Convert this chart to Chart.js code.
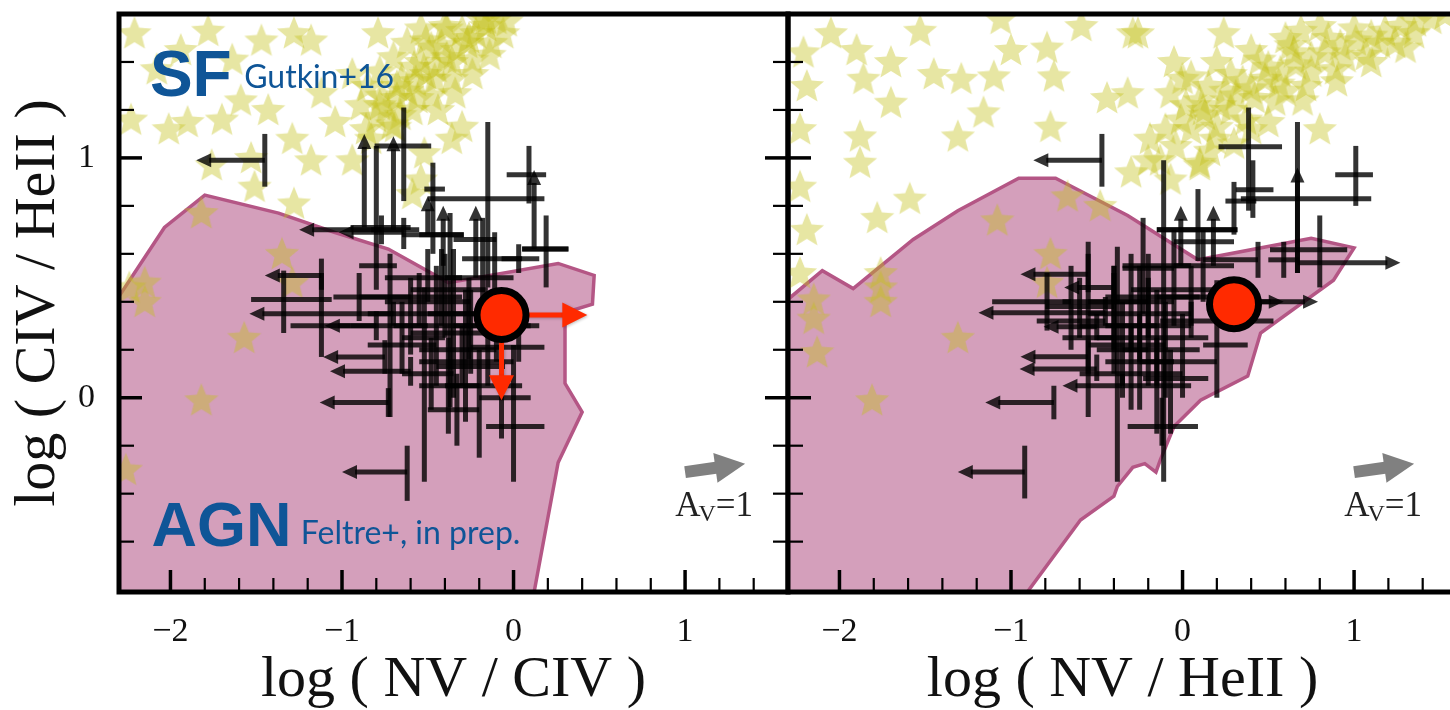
<!DOCTYPE html>
<html>
<head>
<meta charset="utf-8">
<script src="https://cdn.jsdelivr.net/npm/chart.js@4.4.0/dist/chart.umd.min.js"></script>
<style>
  html, body { margin: 0; padding: 0; background: #fff; overflow: hidden; width: 1450px; height: 710px; }
  #wrap { position: relative; width: 1450px; height: 710px; overflow: hidden; }
  canvas { position: absolute; top: 0; }
  #left { left: 0; }
  #right { left: 669px; }
</style>
</head>
<body>
<div id="wrap">
  <canvas id="left" width="800" height="710"></canvas>
  <canvas id="right" width="800" height="710"></canvas>
</div>
<script>
// Axis limits and labelled ticks
const X_LIMITS = [-2.3, 1.6];
const Y_LIMITS = [-0.81, 1.6];
const X_TICK_LABELS = [-2, -1, 0, 1];
const Y_TICK_LABELS = [0, 1];

// Star-forming photoionisation models (Gutkin+16): [log NV/CIV, log CIV/HeII]
const sfModelsNVCIV = [
  [-2.21,1.52],[-1.78,1.53],[-1.28,1.52],[-0.79,1.52],[-2.01,1.12],[-1.90,1.15],[-1.59,1.24],
  [-1.43,1.20],[-1.12,1.27],[-0.94,1.35],[-1.04,1.15],[-1.29,1.08],[-1.53,1.00],[-1.18,0.99],
  [-0.94,0.99],[-1.51,0.88],[-1.28,0.81],[-0.69,1.13],[-0.30,1.13],[-0.52,1.02],[-0.54,0.91],
  [-1.82,0.77],[-2.15,0.48],[-0.36,1.08],[-0.59,0.85],[-2.24,0.46],[-2.15,0.40],[-1.57,0.25],
  [-1.82,-0.01],[-1.35,0.60],[-1.29,0.48],[-2.08,1.37],[-1.64,1.41],[-1.47,1.49],[-1.94,1.45],
  [-2.23,1.16],[-1.76,0.97],[-0.83,1.08],[-2.26,-0.30],[-1.18,1.49],[-1.70,1.16],
  [-0.86,1.12],[-0.80,1.17],[-0.74,1.21],[-0.68,1.25],[-0.62,1.28],[-0.57,1.32],[-0.51,1.35],
  [-0.45,1.38],[-0.39,1.42],[-0.33,1.45],[-0.27,1.48],[-0.22,1.52],[-0.16,1.55],[-0.10,1.58],
  [-0.77,1.26],[-0.65,1.33],[-0.54,1.40],[-0.42,1.47],[-0.30,1.53],[-0.19,1.58],[-0.71,1.14],
  [-0.59,1.20],[-0.48,1.26],[-0.36,1.33],[-0.24,1.41],[-0.13,1.48],[-0.04,1.57],[-0.89,1.22],
  [-0.51,1.49],[-0.39,1.54],
  [-0.85,1.30],[-0.78,1.36],[-0.70,1.42],[-0.62,1.48],[-0.54,1.54],[-0.78,1.22],[-0.68,1.30],
  [-0.58,1.38],[-0.48,1.46],[-0.40,1.55],[-0.66,1.18],[-0.56,1.25],[-0.46,1.33],[-0.36,1.40],
  [-0.26,1.50],[-0.16,1.58],[-0.44,1.20],[-0.34,1.27],[-0.24,1.35],[-0.14,1.43],[-0.06,1.52]
];
// Star-forming models: [log NV/HeII, log CIV/HeII]
const sfModelsNVHeII = [
  [-2.05,1.52],[-1.90,1.45],[-1.70,1.40],[-1.86,1.33],[-2.21,1.44],[-2.19,1.30],[-2.23,1.12],
  [-1.88,1.09],[-1.88,0.98],[-1.70,1.23],[-1.45,1.35],[-1.29,1.33],[-1.10,1.34],[-1.00,1.45],
  [-0.79,1.46],[-0.59,1.55],[-0.29,1.52],[-0.75,1.34],[-1.16,1.19],[-1.31,1.09],[-0.77,1.13],
  [-0.44,1.25],[-0.32,1.27],[-0.07,1.27],[-0.20,0.99],[-0.30,0.94],[-1.59,0.83],[-1.78,0.75],
  [-2.23,0.88],[-2.19,0.70],[-2.23,0.52],[-1.08,0.74],[-0.77,0.60],[-0.67,0.84],[-0.48,0.80],
  [-1.76,0.52],[-2.15,0.41],[-2.15,0.33],[-2.13,0.19],[-1.76,0.40],[-1.76,0.46],[-1.31,0.25],
  [-1.81,-0.01],[-0.79,0.48],[-0.26,1.52],[0.24,1.52],[0.69,1.53],[0.80,1.12],[0.05,1.34],
  [0.16,1.03],[0.40,1.12],[-1.53,1.53],[-1.06,1.58],
  [-0.13,0.99],[-0.04,1.05],[0.05,1.12],[0.13,1.18],[0.22,1.22],[0.31,1.26],[0.40,1.29],
  [0.48,1.33],[0.57,1.36],[0.66,1.39],[0.75,1.42],[0.83,1.44],[0.92,1.47],[1.01,1.49],
  [1.10,1.51],[1.18,1.53],[1.27,1.55],[1.36,1.57],[1.45,1.58],[1.53,1.60],[0.10,1.24],
  [0.28,1.35],[0.45,1.41],[0.63,1.47],[-0.01,1.16],[0.19,1.08],[0.37,1.16],[0.54,1.24],
  [0.72,1.30],[0.89,1.37],[1.07,1.43],[1.24,1.48],[-0.19,1.08],[-0.07,0.91],[0.10,0.97],
  [0.10,0.98],[0.30,1.06],[0.50,1.15],[0.70,1.24],[0.90,1.32],[1.10,1.40],[1.30,1.46],
  [0.00,1.33],[0.20,1.40],[0.40,1.45],[0.60,1.50],[0.80,1.55],[-0.10,1.12],[0.02,1.22],
  [0.15,1.30],[0.28,1.20],[0.42,1.25],[0.56,1.31],[0.20,1.13],[-0.05,1.40],
  [0.35,1.32],[0.50,1.38],[0.65,1.44],[0.85,1.50],[1.00,1.54],[0.25,1.28],[0.12,1.20],
  [0.60,1.28],[0.75,1.36],[0.95,1.42],[1.15,1.48],[1.35,1.52]
];

// AGN model envelope (Feltre+, in prep.)
const agnEnvelopeNVCIV = [
  [-2.45,0.26],[-2.035,0.71],[-1.80,0.845],[-1.37,0.77],[-1.045,0.69],[-0.73,0.62],[-0.38,0.48],
  [0.26,0.56],[0.47,0.51],[0.46,0.39],[0.30,0.355],[0.30,0.06],[0.40,-0.06],[0.26,-0.27],
  [0.12,-0.81],[0.08,-0.95],[-2.45,-0.95],[-2.45,0.26]
];
const agnEnvelopeNVHeII = [
  [-2.45,0.32],[-2.10,0.53],[-1.92,0.455],[-1.57,0.66],[-1.31,0.78],[-0.955,0.915],[-0.74,0.915],
  [-0.32,0.76],[0.09,0.575],[0.75,0.665],[1.00,0.625],[0.88,0.49],[0.455,0.27],[0.38,0.09],
  [0.105,-0.01],[-0.05,-0.12],[-0.13,-0.26],[-0.155,-0.31],[-0.22,-0.275],[-0.29,-0.29],
  [-0.38,-0.37],[-0.40,-0.41],[-0.595,-0.51],[-0.915,-0.82],[-1.05,-0.95],[-2.45,-0.95],[-2.45,0.32]
];

// Measured line ratios: [x, y, xLow, xHigh, yLow, yHigh, limits]
// limits: L = upper limit in x, R = lower limit in x, U = lower limit in y
const sourcesNVCIV = [
  [-1.45,0.99,-1.85,-1.45,0.88,1.10,'L'],
  [-0.62,-0.31,-1.00,-0.62,-0.43,-0.20,'L'],
  [-0.87,0.71,-0.95,-0.60,0.71,1.10,'U'],
  [-0.70,0.70,-0.83,-0.55,0.70,1.09,'U'],
  [-0.77,0.70,-1.25,-0.77,0.64,0.76,'L'],
  [-0.64,0.69,-1.02,-0.64,0.62,0.75,'L'],
  [-0.64,1.05,-0.81,-0.48,0.82,1.21,''],
  [-0.80,0.55,-0.90,-0.68,0.45,1.05,''],
  [-0.15,0.83,-0.50,0.18,0.46,1.15,''],
  [0.09,0.93,-0.04,0.19,0.81,1.05,''],
  [0.12,0.62,0.05,0.32,0.62,0.95,'U'],
  [0.19,0.62,0.05,0.32,0.46,0.76,''],
  [-0.47,0.87,-0.52,-0.40,0.60,0.98,''],
  [-0.50,0.68,-0.65,-0.29,0.68,0.84,'U'],
  [-0.41,0.68,-0.55,-0.29,0.55,0.80,'U'],
  [-0.22,0.66,-0.35,-0.10,0.50,0.80,'U'],
  [-0.11,0.58,-0.30,0.05,0.38,0.69,''],
  [0.03,0.58,-0.07,0.15,0.52,0.64,''],
  [-1.34,0.41,-1.53,-1.06,0.27,0.53,''],
  [-1.12,0.51,-1.45,-1.12,0.45,0.58,'L'],
  [-0.70,0.35,-1.54,-0.70,0.30,0.40,'L'],
  [-1.12,0.30,-1.30,-0.95,0.17,0.52,''],
  [-0.80,0.30,-1.10,-0.80,0.24,0.36,'L'],
  [-0.75,0.17,-1.11,-0.75,0.10,0.24,'L'],
  [-0.60,0.11,-1.07,-0.60,0.05,0.17,'L'],
  [-0.73,-0.02,-1.13,-0.73,-0.08,0.04,'L'],
  [-0.72,0.30,-0.95,-0.50,-0.08,0.60,''],
  [-0.52,0.25,-0.65,-0.40,-0.35,0.46,''],
  [-0.48,0.10,-0.65,-0.35,-0.05,0.25,''],
  [-0.37,0.20,-0.55,-0.10,-0.04,0.77,''],
  [-0.30,0.13,-0.45,-0.05,0.05,0.30,''],
  [-0.15,0.21,-0.25,0.18,0.05,0.35,''],
  [-0.07,0.00,-0.20,0.10,-0.17,0.09,''],
  [0.00,-0.12,-0.16,0.18,-0.35,0.22,''],
  [-0.26,0.35,-0.40,-0.12,0.16,0.50,''],
  [0.03,0.30,-0.10,0.15,0.15,0.40,''],
  [-0.55,0.42,-0.90,-0.30,0.30,0.52,''],
  [-0.40,0.40,-0.75,-0.25,0.25,0.60,''],
  [-0.25,0.27,-0.60,-0.05,0.10,0.45,''],
  [-0.90,0.42,-1.05,-0.60,0.32,0.52,''],
  [-0.33,-0.05,-0.50,-0.20,-0.20,0.10,''],
  [-0.18,0.50,-0.40,0.00,0.35,0.75,''],
  [-0.45,0.30,-0.70,-0.20,0.05,0.55,''],
  [-0.42,0.45,-0.60,-0.15,0.30,0.62,''],
  [-0.35,0.35,-0.50,-0.05,0.00,0.62,''],
  [-0.28,0.15,-0.55,0.00,-0.10,0.45,''],
  [-0.60,0.35,-0.85,-0.40,0.18,0.50,''],
  [-0.50,0.50,-0.75,-0.30,0.40,0.62,''],
  [-0.20,0.05,-0.40,0.05,-0.25,0.20,''],
  [-0.10,0.30,-0.35,0.10,0.15,0.45,''],
  [-0.65,0.22,-0.85,-0.45,0.10,0.40,''],
  [-0.38,0.05,-0.55,-0.20,-0.15,0.25,'']
];
const sourcesNVHeII = [
  [-0.47,0.99,-0.87,-0.47,0.88,1.10,'L'],
  [-0.75,-0.02,-1.15,-0.75,-0.09,0.05,'L'],
  [-0.92,-0.31,-1.31,-0.92,-0.42,-0.20,'L'],
  [0.385,1.046,0.21,0.58,0.78,1.21,''],
  [0.67,0.83,0.34,1.10,0.52,1.15,''],
  [0.67,0.5625,0.67,1.27,0.52,0.96,'RU'],
  [0.80,0.617,0.51,0.96,0.46,0.76,''],
  [1.01,0.93,0.89,1.11,0.80,1.05,''],
  [0.41,0.867,0.31,0.53,0.75,0.99,''],
  [0.30,0.82,0.25,0.43,0.68,0.90,''],
  [-0.01,0.70,-0.15,0.32,0.55,0.80,'U'],
  [0.18,0.70,-0.15,0.32,0.55,0.80,'U'],
  [-0.11,0.55,-0.35,0.05,-0.35,0.99,''],
  [0.09,0.65,-0.05,0.30,0.57,0.87,''],
  [-0.55,0.515,-0.945,-0.55,0.44,0.60,'L'],
  [-0.79,0.40,-1.11,-0.65,0.28,0.52,''],
  [-0.40,0.46,-0.69,-0.40,0.40,0.52,'L'],
  [-0.45,0.354,-1.19,-0.45,0.30,0.42,'L'],
  [-0.40,0.40,-0.70,-0.20,0.20,0.55,''],
  [-0.50,0.296,-0.81,-0.50,0.24,0.35,'L'],
  [-0.55,0.171,-0.945,-0.55,0.10,0.24,'L'],
  [-0.50,0.12,-0.95,-0.50,0.07,0.18,'L'],
  [-0.35,0.05,-0.70,-0.35,0.00,0.10,'L'],
  [0.22,0.40,0.22,0.59,0.35,0.45,'R'],
  [0.30,0.40,0.30,0.79,0.37,0.44,'R'],
  [0.20,0.22,0.12,0.38,0.00,0.49,''],
  [0.05,0.32,-0.13,0.53,0.25,0.40,''],
  [-0.07,0.08,-0.23,0.15,-0.15,0.20,''],
  [-0.12,-0.12,-0.32,0.09,-0.20,0.00,''],
  [-0.38,0.20,-0.50,-0.20,-0.35,0.63,''],
  [-0.55,0.25,-0.70,-0.40,-0.08,0.65,''],
  [0.44,0.575,0.12,0.44,0.50,0.65,''],
  [0.59,0.575,0.50,0.68,0.50,0.65,''],
  [-0.23,0.54,-0.35,-0.05,0.35,0.75,''],
  [-0.25,0.35,-0.55,0.05,0.15,0.55,''],
  [-0.15,0.25,-0.50,0.15,0.05,0.45,''],
  [-0.30,0.10,-0.60,0.00,-0.05,0.30,''],
  [0.00,0.15,-0.25,0.20,0.00,0.35,''],
  [-0.20,0.42,-0.45,0.10,0.25,0.60,''],
  [-0.05,0.45,-0.30,0.25,0.30,0.70,''],
  [-0.65,0.32,-0.85,-0.45,0.20,0.55,''],
  [0.12,0.55,-0.05,0.30,0.40,0.70,''],
  [-0.30,0.40,-0.55,-0.05,0.20,0.60,''],
  [-0.20,0.30,-0.45,0.05,0.05,0.50,''],
  [-0.40,0.30,-0.60,-0.15,0.10,0.55,''],
  [-0.10,0.20,-0.35,0.10,0.00,0.40,''],
  [-0.35,0.22,-0.55,-0.10,0.05,0.40,''],
  [-0.15,0.05,-0.35,0.05,-0.15,0.25,''],
  [0.05,0.42,-0.15,0.25,0.30,0.55,''],
  [-0.60,0.38,-0.80,-0.40,0.25,0.50,''],
  [-0.25,0.15,-0.45,-0.05,-0.05,0.35,'']
];

// Highlighted object and its limit arrows
const highlightNVCIV = [[-0.07, 0.345]];
const highlightNVHeII = [[0.30, 0.39]];
const highlightArrowsNVCIV = [[-0.07,0.345,0.43,0.345],[-0.07,0.345,-0.07,-0.01]];
const highlightArrowsNVHeII = [];

// Dust reddening vector (A_V = 1)
const reddeningVector = [1.00,-0.31,1.35,-0.275];
const reddeningLabelAt = [1.175,-0.445];

const BLUE = '#0f5597';
const OBS_COLOR = 'rgba(0,0,0,0.8)';

function makeStar(r, ratio, fill) {
  const s = Math.ceil(r * 2 + 6);
  const c = document.createElement('canvas');
  c.width = c.height = s;
  const g = c.getContext('2d');
  g.filter = 'blur(0.6px)';
  g.translate(s / 2, s / 2 + 1);
  g.beginPath();
  for (let i = 0; i < 10; i++) {
    const a = -Math.PI / 2 + i * Math.PI / 5;
    const rr = i % 2 ? r * ratio : r;
    g.lineTo(rr * Math.cos(a), rr * Math.sin(a));
  }
  g.closePath();
  g.fillStyle = fill;
  g.fill();
  return c;
}
const starMarker = makeStar(18, 0.44, 'rgba(195,192,25,0.4)');

function arrowHead(ctx, x, y, dx, dy, len, half) {
  const n = Math.hypot(dx, dy) || 1;
  const ux = dx / n, uy = dy / n;
  ctx.beginPath();
  ctx.moveTo(x, y);
  ctx.lineTo(x - ux * len - uy * half, y - uy * len + ux * half);
  ctx.lineTo(x - ux * len + uy * half, y - uy * len - ux * half);
  ctx.closePath();
  ctx.fill();
}

function segment(ctx, x0, y0, x1, y1) {
  ctx.beginPath(); ctx.moveTo(x0, y0); ctx.lineTo(x1, y1); ctx.stroke();
}

function drawSources(chart, rows) {
  const {ctx, chartArea: a, scales: {x, y}} = chart;
  ctx.save();
  ctx.beginPath(); ctx.rect(a.left, a.top, a.right - a.left, a.bottom - a.top); ctx.clip();
  ctx.strokeStyle = OBS_COLOR; ctx.fillStyle = OBS_COLOR; ctx.lineWidth = 5; ctx.lineCap = 'butt';
  const HL = 15, HW = 7;
  rows.forEach(([vx, vy, xlo, xhi, ylo, yhi, lim]) => {
    const px = x.getPixelForValue(vx), py = y.getPixelForValue(vy);
    let hx0 = x.getPixelForValue(xlo), hx1 = x.getPixelForValue(xhi);
    let vy0 = y.getPixelForValue(yhi), vy1 = y.getPixelForValue(ylo);
    if (lim.includes('L')) hx0 += HL - 2;
    if (lim.includes('R')) hx1 -= HL - 2;
    if (lim.includes('U')) vy0 += HL - 2;
    if (hx1 > hx0) segment(ctx, hx0, py, hx1, py);
    if (vy1 > vy0) segment(ctx, px, vy0, px, vy1);
    if (lim.includes('L')) arrowHead(ctx, x.getPixelForValue(xlo), py, -1, 0, HL, HW);
    if (lim.includes('R')) arrowHead(ctx, x.getPixelForValue(xhi), py, 1, 0, HL, HW);
    if (lim.includes('U')) arrowHead(ctx, px, y.getPixelForValue(yhi), 0, -1, HL, HW);
  });
  ctx.restore();
}

function drawHighlightArrows(chart, arrows) {
  const {ctx, scales: {x, y}} = chart;
  ctx.save();
  ctx.strokeStyle = '#ff2a00'; ctx.fillStyle = '#ff2a00'; ctx.lineWidth = 5;
  ctx.shadowColor = 'rgba(0,0,0,0.25)'; ctx.shadowBlur = 3; ctx.shadowOffsetX = 1; ctx.shadowOffsetY = 1;
  arrows.forEach(([x0, y0, x1, y1]) => {
    const p0x = x.getPixelForValue(x0), p0y = y.getPixelForValue(y0);
    const p1x = x.getPixelForValue(x1), p1y = y.getPixelForValue(y1);
    const n = Math.hypot(p1x - p0x, p1y - p0y);
    const ux = (p1x - p0x) / n, uy = (p1y - p0y) / n;
    segment(ctx, p0x, p0y, p1x - ux * 20, p1y - uy * 20);
    arrowHead(ctx, p1x, p1y, ux, uy, 25, 12.5);
  });
  ctx.restore();
}

function drawReddening(chart) {
  const {ctx, scales: {x, y}} = chart;
  const [x0, y0, x1, y1] = reddeningVector;
  const p0x = x.getPixelForValue(x0), p0y = y.getPixelForValue(y0);
  const p1x = x.getPixelForValue(x1), p1y = y.getPixelForValue(y1);
  const n = Math.hypot(p1x - p0x, p1y - p0y);
  const ux = (p1x - p0x) / n, uy = (p1y - p0y) / n;
  ctx.save();
  ctx.filter = 'blur(0.5px)';
  ctx.strokeStyle = '#808080'; ctx.fillStyle = '#808080'; ctx.lineWidth = 12;
  segment(ctx, p0x, p0y, p1x - ux * 26, p1y - uy * 26);
  arrowHead(ctx, p1x, p1y, ux, uy, 30, 15);
  ctx.filter = 'none';
  // "A_V=1" label
  const lx = x.getPixelForValue(reddeningLabelAt[0]), ly = y.getPixelForValue(reddeningLabelAt[1]);
  ctx.fillStyle = '#222';
  ctx.textBaseline = 'alphabetic';
  const big = '35px "Liberation Serif"', small = '24px "Liberation Serif"';
  ctx.font = big; const wA = ctx.measureText('A').width, wE = ctx.measureText('=1').width;
  ctx.font = small; const wV = ctx.measureText('V').width;
  let cx = lx - (wA + wV + wE) / 2;
  const base = ly + 12;
  ctx.font = big; ctx.textAlign = 'left'; ctx.fillText('A', cx, base); cx += wA;
  ctx.font = small; ctx.fillText('V', cx - 2, base + 5); cx += wV - 2;
  ctx.font = big; ctx.fillText('=1', cx, base);
  ctx.restore();
}

function drawFrame(chart, panel) {
  const {ctx, chartArea: a, scales: {x, y}} = chart;
  ctx.save();
  ctx.strokeStyle = '#000';
  const onGrid = v => Math.abs(v * 5 - Math.round(v * 5)) < 1e-6;
  const isInt = v => Math.abs(v - Math.round(v)) < 1e-6;
  x.ticks.forEach(t => {
    const v = t.value; if (!onGrid(v)) return;
    const p = x.getPixelForValue(v);
    if (p < a.left + 5 || p > a.right - 5) return;
    const major = isInt(v);
    ctx.lineWidth = major ? 3.5 : 2.2;
    segment(ctx, p, a.bottom, p, a.bottom - (major ? 22 : 14));
  });
  y.ticks.forEach(t => {
    const v = t.value; if (!onGrid(v)) return;
    const p = y.getPixelForValue(v);
    if (p < a.top + 5 || p > a.bottom - 5) return;
    const major = isInt(v);
    const len = major ? 23 : 15;
    ctx.lineWidth = major ? 3.5 : 2.2;
    segment(ctx, a.left, p, a.left + len, p);
    if (panel.rightTicks) segment(ctx, a.right, p, a.right - len, p);
  });
  ctx.lineWidth = 5;
  ctx.strokeRect(a.left, a.top, a.right - a.left, a.bottom - a.top);
  ctx.restore();
}

function drawTags(chart, tags) {
  const {ctx, scales: {x, y}} = chart;
  ctx.save();
  ctx.fillStyle = BLUE; ctx.textAlign = 'left'; ctx.textBaseline = 'alphabetic';
  tags.forEach(t => {
    ctx.font = t.font;
    ctx.fillText(t.text, x.getPixelForValue(t.at[0]), y.getPixelForValue(t.at[1]));
  });
  ctx.restore();
}

const panels = {
  left: {
    xTitle: 'log ( NV / CIV )', yTitle: 'log ( CIV / HeII )',
    sf: sfModelsNVCIV, agn: agnEnvelopeNVCIV, sources: sourcesNVCIV,
    highlight: highlightNVCIV, arrows: highlightArrowsNVCIV, rightTicks: true, yLabels: true,
    tags: [
      {text: 'SF', at: [-2.12, 1.26], font: 'bold 64px "Liberation Sans"'},
      {text: 'Gutkin+16', at: [-1.57, 1.29], font: '32px Lato'},
      {text: 'AGN', at: [-2.11, -0.62], font: 'bold 63px "Liberation Sans"'},
      {text: 'Feltre+, in prep.', at: [-1.24, -0.61], font: '32px Lato'}
    ]
  },
  right: {
    xTitle: 'log ( NV / HeII )', yTitle: '',
    sf: sfModelsNVHeII, agn: agnEnvelopeNVHeII, sources: sourcesNVHeII,
    highlight: highlightNVHeII, arrows: highlightArrowsNVHeII, rightTicks: false, yLabels: false,
    tags: []
  }
};

const panelPlugin = {
  id: 'panelDecor',
  afterDatasetDraw(chart, args) {
    const panel = panels[chart.canvas.id];
    const ds = chart.data.datasets[args.index];
    if (ds.label === 'sources') {
      drawSources(chart, panel.sources);
      drawHighlightArrows(chart, panel.arrows);
    }
  },
  afterDraw(chart) {
    const panel = panels[chart.canvas.id];
    drawTags(chart, panel.tags);
    drawReddening(chart);
    drawFrame(chart, panel);
  }
};

const serif = 'Liberation Serif';
const fmt = v => (v < 0 ? '\u2212' : '') + Math.abs(v);

function build(id) {
  const p = panels[id];
  return new Chart(document.getElementById(id), {
    type: 'scatter',
    data: {
      datasets: [
        {
          label: 'agn', order: 4,
          data: p.agn.map(([x, y]) => ({x, y})),
          showLine: true, fill: 'shape', tension: 0,
          backgroundColor: 'rgb(212,159,187)', borderColor: 'rgb(180,86,133)', borderWidth: 3.5,
          pointRadius: 0, clip: 0
        },
        {
          label: 'sf', order: 3,
          data: p.sf.map(([x, y]) => ({x, y})),
          pointStyle: starMarker, pointRadius: 18, clip: 0
        },
        {
          label: 'sources', order: 2,
          data: p.sources.map(r => ({x: r[0], y: r[1]})),
          pointRadius: 0
        },
        {
          label: 'highlight', order: 1,
          data: p.highlight.map(([x, y]) => ({x, y})),
          pointRadius: 24.5, pointBackgroundColor: '#ff2a00', pointBorderColor: '#000', pointBorderWidth: 7,
          clip: 0
        }
      ]
    },
    options: {
      responsive: false, animation: false, events: [],
      layout: {autoPadding: false, padding: {top: 14, right: 12, left: 0, bottom: 0}},
      plugins: {legend: {display: false}, tooltip: {enabled: false}},
      scales: {
        x: {
          type: 'linear', min: X_LIMITS[0], max: X_LIMITS[1],
          grid: {display: false, drawTicks: false}, border: {display: false},
          ticks: {
            stepSize: 0.2, autoSkip: false, maxRotation: 0, minRotation: 0, padding: 20,
            color: '#111', font: {family: serif, size: 34},
            callback: v => {
              const r = Math.round(v);
              return (Math.abs(v - r) < 1e-6 && X_TICK_LABELS.includes(r)) ? fmt(r) : '';
            }
          },
          title: {display: true, text: p.xTitle, color: '#111', padding: 0,
                  font: {family: serif, size: 58, lineHeight: 1}},
          afterFit: s => { s.height = 118; s.paddingLeft = 0; s.paddingRight = 0; }
        },
        y: {
          type: 'linear', min: Y_LIMITS[0], max: Y_LIMITS[1],
          grid: {display: false, drawTicks: false}, border: {display: false},
          ticks: {
            display: p.yLabels, stepSize: 0.2, autoSkip: false, padding: 24,
            color: '#111', font: {family: serif, size: 34},
            callback: v => {
              const r = Math.round(v);
              return (Math.abs(v - r) < 1e-6 && Y_TICK_LABELS.includes(r)) ? fmt(r) : '';
            }
          },
          title: {display: !!p.yTitle, text: p.yTitle, color: '#111', padding: {top: 10, bottom: 0},
                  font: {family: serif, size: 58, lineHeight: 1}},
          afterFit: s => { s.width = 119; s.paddingTop = 0; s.paddingBottom = 0; }
        }
      }
    },
    plugins: [panelPlugin]
  });
}

build('left');
build('right');
</script>
</body>
</html>
